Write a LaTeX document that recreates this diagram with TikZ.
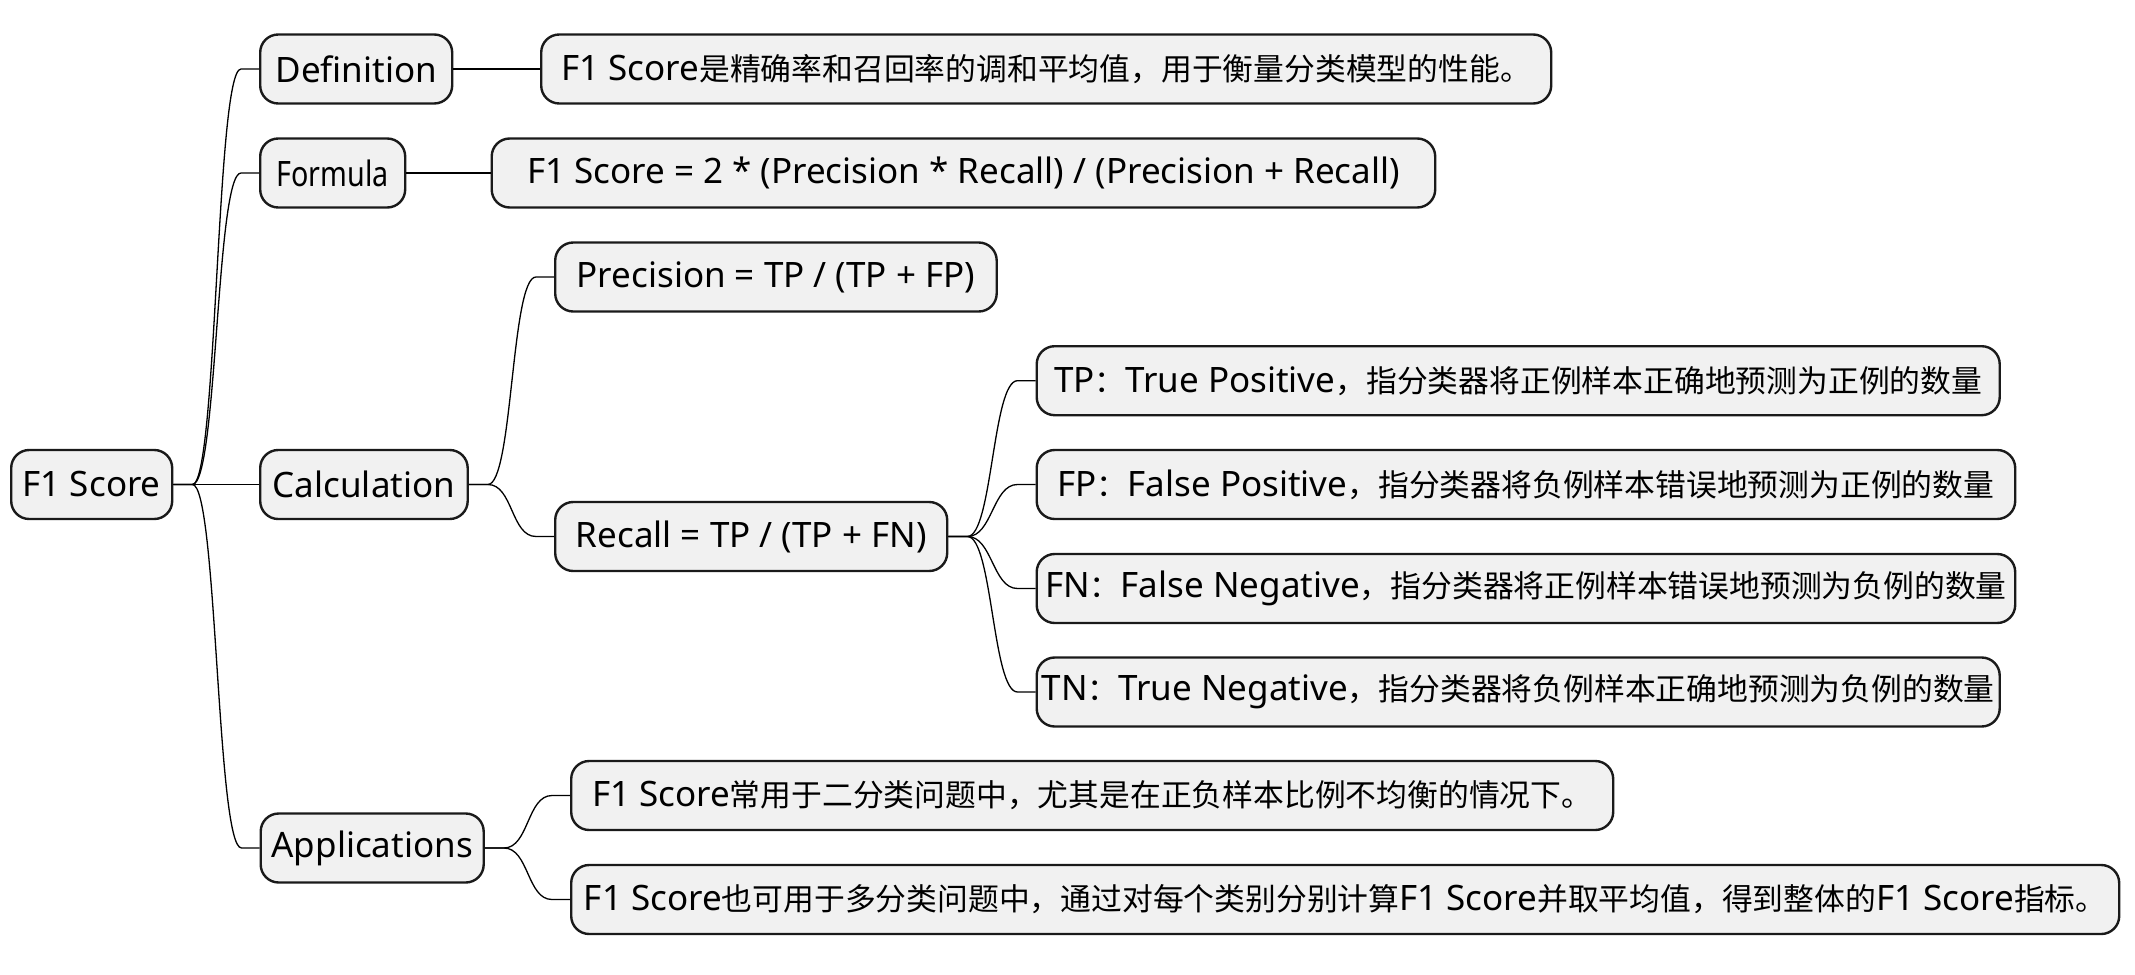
\documentclass[tikz,border=0pt]{standalone}
\usepackage{fontspec}
\usepackage{graphicx}
\setmainfont{Noto Sans}
\newfontfamily\cjk[Scale=0.88]{Noto Sans CJK SC}
\usetikzlibrary{calc}
\definecolor{boxfill}{HTML}{F1F1F1}
\definecolor{boxline}{HTML}{1A1A1A}
\begin{document}
\begin{tikzpicture}[x=0.5pt,y=-0.5pt,
  box/.style={draw=boxline, fill=boxfill, line width=1.2pt, rounded corners=9pt,
    minimum height=34.5pt, inner sep=0pt, anchor=west,
    font=\fontsize{17.5}{20}\selectfont, text=black},
  link/.style={draw=black, line width=0.65pt},
  branch/.style={to path={-- ++(19,0) .. controls +(25,0) and ($(\tikztotarget)+(-43,0)$) .. ($(\tikztotarget)+(-18,0)$) -- (\tikztotarget)}}
]
\useasboundingbox (0,0) rectangle (2135,974);

\node[box, minimum width=80.5pt] (root) at (10,484.5) {F1 Score};

\node[box, minimum width=96pt] (def) at (259,69) {Definition};
\node[box, minimum width=505pt] (deft) at (540,69) {F1 Score{\cjk 是精确率和召回率的调和平均值，用于衡量分类模型的性能。}};

\node[box, minimum width=72.5pt] (form) at (259,173) {\scalebox{0.82}[1]{Formula}};
\node[box, minimum width=471.75pt] (formt) at (490.5,173) {F1 Score = 2 * (Precision * Recall) / (Precision + Recall)};

\node[box, minimum width=103.75pt] (calc) at (259,484.5) {Calculation};
\node[box, minimum width=220.75pt] (prec) at (554,277) {Precision = TP / (TP + FP)};
\node[box, minimum width=196pt] (rec) at (554,536.5) {Recall = TP / (TP + FN)};

\node[box, minimum width=481.5pt] (tp) at (1035.5,380.7) {TP{\cjk ：}True Positive{\cjk ，指分类器将正例样本正确地预测为正例的数量}};
\node[box, minimum width=489.25pt] (fp) at (1035.5,484.5) {FP{\cjk ：}False Positive{\cjk ，指分类器将负例样本错误地预测为正例的数量}};
\node[box, minimum width=489.25pt] (fn) at (1035.5,588.5) {FN{\cjk ：}False Negative{\cjk ，指分类器将正例样本错误地预测为负例的数量}};
\node[box, minimum width=481.5pt] (tn) at (1035.5,692) {TN{\cjk ：}True Negative{\cjk ，指分类器将负例样本正确地预测为负例的数量}};

\node[box, minimum width=111.5pt] (app) at (259.5,848) {Applications};
\node[box, minimum width=521pt] (app1) at (570,795.5) {F1 Score{\cjk 常用于二分类问题中，尤其是在正负样本比例不均衡的情况下。}};
\node[box, minimum width=774pt] (app2) at (570,899.5) {F1 Score{\cjk 也可用于多分类问题中，通过对每个类别分别计算}F1 Score{\cjk 并取平均值，得到整体的}F1 Score{\cjk 指标。}};

\draw[link] (root.east) to[branch] (def.west);
\draw[link] (root.east) to[branch] (form.west);
\draw[link] (root.east) -- (calc.west);
\draw[link] (root.east) to[branch] (app.west);

\draw[link] (def.east) -- (deft.west);
\draw[link] (form.east) -- (formt.west);

\draw[link] (calc.east) to[branch] (prec.west);
\draw[link] (calc.east) to[branch] (rec.west);

\draw[link] (rec.east) to[branch] (tp.west);
\draw[link] (rec.east) to[branch] (fp.west);
\draw[link] (rec.east) to[branch] (fn.west);
\draw[link] (rec.east) to[branch] (tn.west);

\draw[link] (app.east) to[branch] (app1.west);
\draw[link] (app.east) to[branch] (app2.west);
\end{tikzpicture}
\end{document}
